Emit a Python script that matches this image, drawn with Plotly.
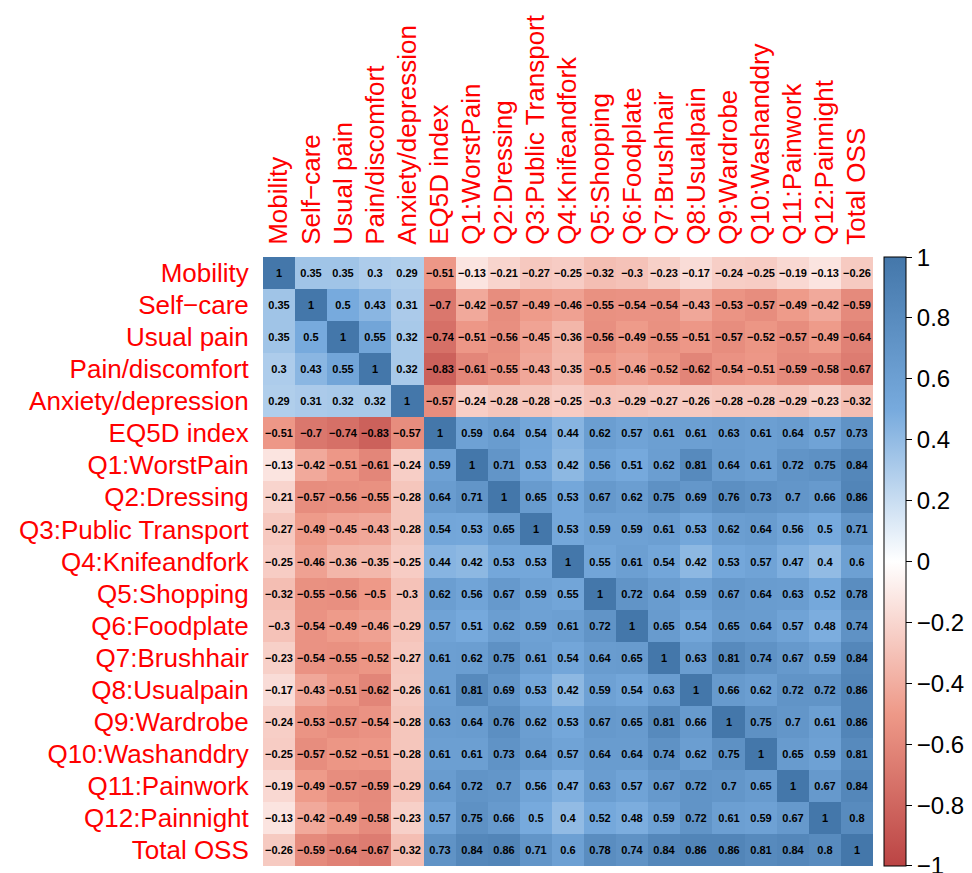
import plotly.graph_objects as go

# Variable names (rows and columns share the same order)
labels = [
    "Mobility", "Self−care", "Usual pain", "Pain/discomfort", "Anxiety/depression",
    "EQ5D index", "Q1:WorstPain", "Q2:Dressing", "Q3:Public Transport",
    "Q4:Knifeandfork", "Q5:Shopping", "Q6:Foodplate", "Q7:Brushhair",
    "Q8:Usualpain", "Q9:Wardrobe", "Q10:Washanddry", "Q11:Painwork",
    "Q12:Painnight", "Total OSS",
]

# Correlation coefficients, one list per variable
r_mobility = [1, 0.35, 0.35, 0.3, 0.29, -0.51, -0.13, -0.21, -0.27, -0.25, -0.32, -0.3, -0.23, -0.17, -0.24, -0.25, -0.19, -0.13, -0.26]
r_selfcare = [0.35, 1, 0.5, 0.43, 0.31, -0.7, -0.42, -0.57, -0.49, -0.46, -0.55, -0.54, -0.54, -0.43, -0.53, -0.57, -0.49, -0.42, -0.59]
r_usualpain = [0.35, 0.5, 1, 0.55, 0.32, -0.74, -0.51, -0.56, -0.45, -0.36, -0.56, -0.49, -0.55, -0.51, -0.57, -0.52, -0.57, -0.49, -0.64]
r_paindisc = [0.3, 0.43, 0.55, 1, 0.32, -0.83, -0.61, -0.55, -0.43, -0.35, -0.5, -0.46, -0.52, -0.62, -0.54, -0.51, -0.59, -0.58, -0.67]
r_anxiety = [0.29, 0.31, 0.32, 0.32, 1, -0.57, -0.24, -0.28, -0.28, -0.25, -0.3, -0.29, -0.27, -0.26, -0.28, -0.28, -0.29, -0.23, -0.32]
r_eq5d = [-0.51, -0.7, -0.74, -0.83, -0.57, 1, 0.59, 0.64, 0.54, 0.44, 0.62, 0.57, 0.61, 0.61, 0.63, 0.61, 0.64, 0.57, 0.73]
r_q1 = [-0.13, -0.42, -0.51, -0.61, -0.24, 0.59, 1, 0.71, 0.53, 0.42, 0.56, 0.51, 0.62, 0.81, 0.64, 0.61, 0.72, 0.75, 0.84]
r_q2 = [-0.21, -0.57, -0.56, -0.55, -0.28, 0.64, 0.71, 1, 0.65, 0.53, 0.67, 0.62, 0.75, 0.69, 0.76, 0.73, 0.7, 0.66, 0.86]
r_q3 = [-0.27, -0.49, -0.45, -0.43, -0.28, 0.54, 0.53, 0.65, 1, 0.53, 0.59, 0.59, 0.61, 0.53, 0.62, 0.64, 0.56, 0.5, 0.71]
r_q4 = [-0.25, -0.46, -0.36, -0.35, -0.25, 0.44, 0.42, 0.53, 0.53, 1, 0.55, 0.61, 0.54, 0.42, 0.53, 0.57, 0.47, 0.4, 0.6]
r_q5 = [-0.32, -0.55, -0.56, -0.5, -0.3, 0.62, 0.56, 0.67, 0.59, 0.55, 1, 0.72, 0.64, 0.59, 0.67, 0.64, 0.63, 0.52, 0.78]
r_q6 = [-0.3, -0.54, -0.49, -0.46, -0.29, 0.57, 0.51, 0.62, 0.59, 0.61, 0.72, 1, 0.65, 0.54, 0.65, 0.64, 0.57, 0.48, 0.74]
r_q7 = [-0.23, -0.54, -0.55, -0.52, -0.27, 0.61, 0.62, 0.75, 0.61, 0.54, 0.64, 0.65, 1, 0.63, 0.81, 0.74, 0.67, 0.59, 0.84]
r_q8 = [-0.17, -0.43, -0.51, -0.62, -0.26, 0.61, 0.81, 0.69, 0.53, 0.42, 0.59, 0.54, 0.63, 1, 0.66, 0.62, 0.72, 0.72, 0.86]
r_q9 = [-0.24, -0.53, -0.57, -0.54, -0.28, 0.63, 0.64, 0.76, 0.62, 0.53, 0.67, 0.65, 0.81, 0.66, 1, 0.75, 0.7, 0.61, 0.86]
r_q10 = [-0.25, -0.57, -0.52, -0.51, -0.28, 0.61, 0.61, 0.73, 0.64, 0.57, 0.64, 0.64, 0.74, 0.62, 0.75, 1, 0.65, 0.59, 0.81]
r_q11 = [-0.19, -0.49, -0.57, -0.59, -0.29, 0.64, 0.72, 0.7, 0.56, 0.47, 0.63, 0.57, 0.67, 0.72, 0.7, 0.65, 1, 0.67, 0.84]
r_q12 = [-0.13, -0.42, -0.49, -0.58, -0.23, 0.57, 0.75, 0.66, 0.5, 0.4, 0.52, 0.48, 0.59, 0.72, 0.61, 0.59, 0.67, 1, 0.8]
r_total = [-0.26, -0.59, -0.64, -0.67, -0.32, 0.73, 0.84, 0.86, 0.71, 0.6, 0.78, 0.74, 0.84, 0.86, 0.86, 0.81, 0.84, 0.8, 1]

corr = [r_mobility, r_selfcare, r_usualpain, r_paindisc, r_anxiety, r_eq5d,
        r_q1, r_q2, r_q3, r_q4, r_q5, r_q6, r_q7, r_q8, r_q9, r_q10, r_q11,
        r_q12, r_total]

# Colorbar ticks
cb_ticks = [-1, -0.8, -0.6, -0.4, -0.2, 0, 0.2, 0.4, 0.6, 0.8, 1]


def fmt(v):
    return "<b>" + f"{v:g}".replace("-", "−") + "</b>"


cell_text = [[fmt(v) for v in row] for row in corr]

palette = [
    [0.0, "#BB4444"],
    [0.25, "#EE9988"],
    [0.5, "#FFFFFF"],
    [0.75, "#77AADD"],
    [1.0, "#4477AA"],
]

FONT = "Liberation Sans, Arial, Helvetica, sans-serif"

# keep the end ticks a hair inside the bar so both are drawn
cb_tickpos = [max(-0.999, min(0.999, t)) for t in cb_ticks]

fig = go.Figure(
    go.Heatmap(
        z=corr,
        x=labels,
        y=labels,
        zmin=-1,
        zmax=1,
        colorscale=palette,
        text=cell_text,
        texttemplate="%{text}",
        textfont=dict(family=FONT, size=11, color="black"),
        hoverinfo="skip",
        colorbar=dict(
            x=1.018,
            xanchor="left",
            xpad=0,
            y=0.5,
            yanchor="middle",
            ypad=0,
            lenmode="pixels",
            len=609,
            thickness=22,
            outlinewidth=1,
            outlinecolor="black",
            tickmode="array",
            tickvals=cb_tickpos,
            ticktext=[f"{t:g}".replace("-", "−") for t in cb_ticks],
            ticks="outside",
            ticklen=6,
            tickcolor="black",
            ticklabeloverflow="allow",
            tickfont=dict(family=FONT, size=24, color="black"),
        ),
    )
)

fig.update_layout(
    width=972,
    height=873,
    margin=dict(l=263, r=99, t=257, b=7),
    paper_bgcolor="white",
    plot_bgcolor="white",
    xaxis=dict(
        side="top",
        tickangle=-90,
        tickfont=dict(family=FONT, size=26, color="red"),
        ticks="outside",
        ticklen=6,
        tickcolor="rgba(0,0,0,0)",
        showgrid=False,
        zeroline=False,
        showline=False,
        constrain="domain",
    ),
    yaxis=dict(
        autorange="reversed",
        tickfont=dict(family=FONT, size=26, color="red"),
        ticks="outside",
        ticklen=8,
        tickcolor="rgba(0,0,0,0)",
        showgrid=False,
        zeroline=False,
        showline=False,
    ),
)

fig.write_html("out.html")
